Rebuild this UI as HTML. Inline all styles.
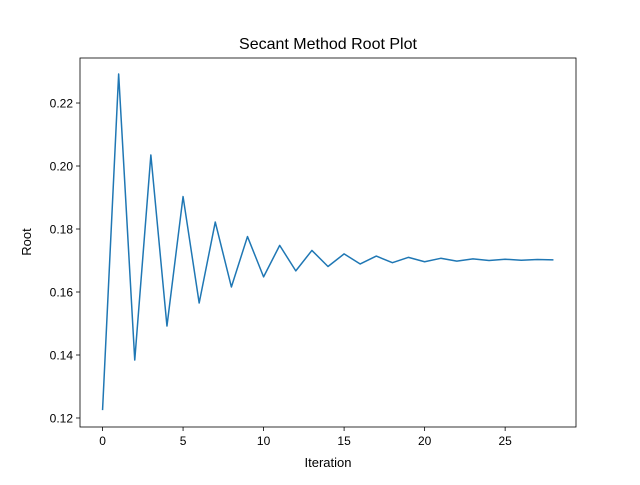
<!DOCTYPE html>
<html><head><meta charset="utf-8"><style>
body{margin:0;background:#fff;}
svg text{font-family:"Liberation Sans","DejaVu Sans",sans-serif;fill:#000;}
</style></head><body>
<svg id="chart" width="640" height="480" xmlns="http://www.w3.org/2000/svg">
<rect width="640" height="480" fill="#fff"/>
<text x="328" y="49" font-size="16" text-anchor="middle">Secant Method Root Plot</text>
<g id="axes"></g>
<text x="328" y="467" font-size="13" text-anchor="middle">Iteration</text>
<text x="31" y="242" font-size="13" text-anchor="middle" transform="rotate(-90 31 242)">Root</text>
</svg>
<script>
const iterations=[0,1,2,3,4,5,6,7,8,9,10,11,12,13,14,15,16,17,18,19,20,21,22,23,24,25,26,27,28];
const roots=[0.1225,0.2292,0.1384,0.2035,0.1492,0.1903,0.1565,0.1822,0.1616,0.1776,0.1648,0.1748,0.1667,0.1732,0.1681,0.1721,0.1689,0.1714,0.1693,0.1710,0.1696,0.1707,0.1698,0.1705,0.1700,0.1704,0.1701,0.1703,0.1702];
const xTicks=[0,5,10,15,20,25];
const yTicks=[0.12,0.14,0.16,0.18,0.20,0.22];
const L=80,R=576,T=58,B=427;
const xMin=-1.4,xMax=29.4,yMin=0.11714,yMax=0.23429;
const sx=v=>L+(v-xMin)/(xMax-xMin)*(R-L);
const sy=v=>B-(v-yMin)/(yMax-yMin)*(B-T);
const NS="http://www.w3.org/2000/svg";
const g=document.getElementById('axes');
function mk(t,a){const e=document.createElementNS(NS,t);for(const k in a)e.setAttribute(k,a[k]);g.appendChild(e);return e;}
xTicks.forEach(v=>{
 const l=mk('line',{x1:sx(v),x2:sx(v),y1:B,y2:B+4,stroke:'#000','stroke-width':0.8});
 
 
 const t=mk('text',{x:sx(v),y:B+18,'font-size':12,'text-anchor':'middle'});t.textContent=v;
 
 
});
yTicks.forEach(v=>{
 const l=mk('line',{x1:L-4,x2:L,y1:sy(v),y2:sy(v),stroke:'#000','stroke-width':0.8});
 
 
 const t=mk('text',{x:L-7,y:sy(v)+4.5,'font-size':12,'text-anchor':'end'});t.textContent=v.toFixed(2);
 
 
});
const pts=iterations.map((x,i)=>sx(x).toFixed(2)+','+sy(roots[i]).toFixed(2)).join(' ');
const line=mk('polyline',{points:pts,fill:'none',stroke:'#1f77b4','stroke-width':1.5,'stroke-linejoin':'round'});


const fr=mk('rect',{x:L,y:T,width:R-L,height:B-T,fill:'none',stroke:'#000','stroke-width':0.8});


</script>
</body></html>
